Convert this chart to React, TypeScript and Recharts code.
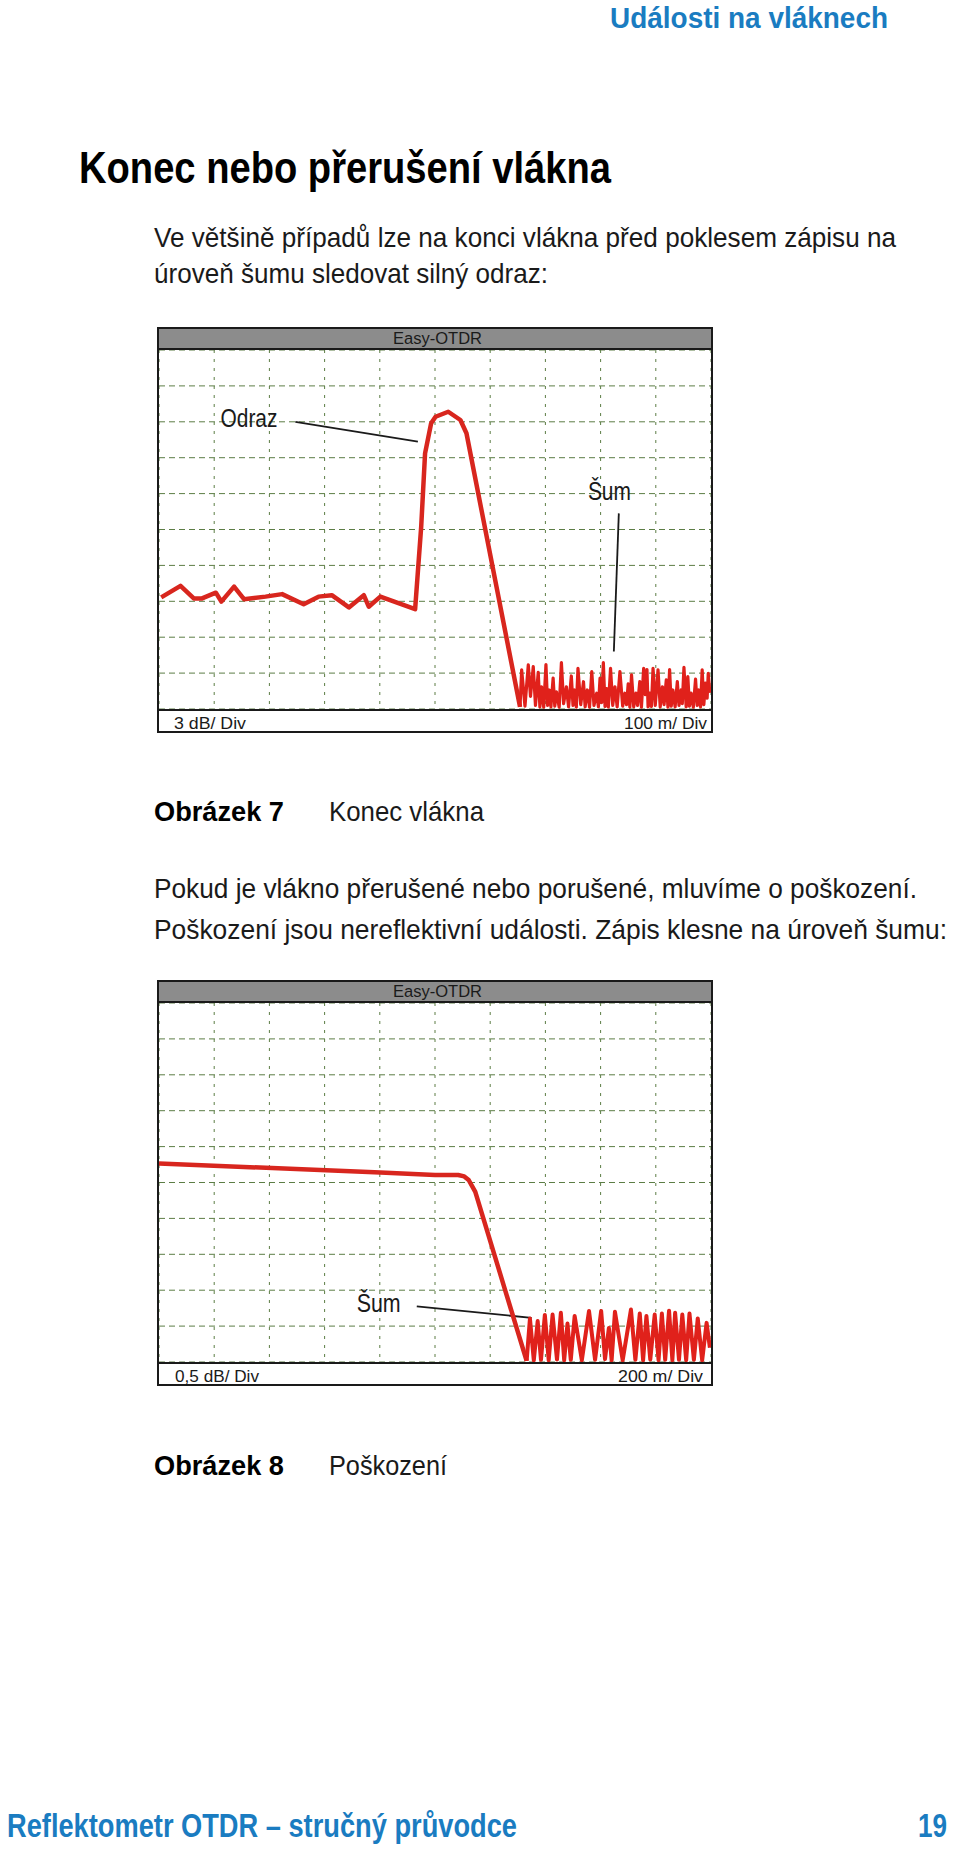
import { LineChart, Line, XAxis, YAxis, CartesianGrid, ReferenceLine, ReferenceDot } from 'recharts'

const FONT = "'Liberation Sans Narrow', 'Arial Narrow', 'Liberation Sans', Arial, sans-serif"
const RED = '#d8261e'
const GRID = '#5c7d45'
const INK = '#1a1a1a'
const BLUE = '#1a7cc1'

// mřížka: 10 dílků na obou osách
const divTicks = [1, 2, 3, 4, 5, 6, 7, 8, 9]

// Obrázek 7 – konec vlákna (x: dílky po 100 m, y: dílky po 3 dB)
const endTrace = [
  [0.04, 3.11], [0.39, 3.43], [0.63, 3.08], [0.78, 3.08], [1.03, 3.24], [1.13, 2.99],
  [1.36, 3.41], [1.54, 3.06], [1.93, 3.13], [2.23, 3.2], [2.62, 2.92], [2.89, 3.13],
  [3.13, 3.17], [3.44, 2.83], [3.71, 3.17], [3.8, 2.85], [4.01, 3.13], [4.64, 2.78],
  [4.75, 5.08], [4.82, 7.12], [4.93, 7.96], [5.01, 8.14], [5.24, 8.28], [5.46, 8.05],
  [5.57, 7.68], [6.54, 0.06],
]
const endNoise = [
  [6.54, 0.06], [6.57, 1.09], [6.63, 0.08], [6.69, 1.23], [6.73, 0.35], [6.78, 1.18], [6.82, 0.1],
  [6.87, 1.02], [6.9, 0.06], [6.93, 0.62], [6.97, 0.05], [7.01, 1.24], [7.04, 0.1], [7.07, 0.53],
  [7.1, 0.06], [7.14, 0.86], [7.17, 0.08], [7.2, 0.48], [7.25, 0.05], [7.29, 1.29], [7.33, 0.15],
  [7.38, 0.62], [7.42, 0.06], [7.47, 0.92], [7.5, 0.1], [7.53, 0.53], [7.56, 0.05], [7.59, 1.13],
  [7.64, 0.12], [7.69, 0.76], [7.72, 0.06], [7.76, 0.53], [7.8, 0.05], [7.84, 1.04], [7.88, 0.1],
  [7.93, 0.44], [7.96, 0.06], [7.99, 0.86], [8.02, 0.18], [8.05, 1.29], [8.08, 0.07], [8.11, 0.57],
  [8.14, 0.05], [8.18, 1.13], [8.22, 0.1], [8.26, 0.62], [8.3, 0.06], [8.35, 1.04], [8.4, 0.08],
  [8.44, 0.44], [8.47, 0.12], [8.5, 0.7], [8.53, 0.05], [8.56, 0.95], [8.6, 0.06], [8.64, 0.44],
  [8.67, 0.1], [8.71, 0.76], [8.74, 0.05], [8.78, 1.13], [8.81, 0.4], [8.84, 1.1], [8.86, 0.06],
  [8.89, 0.44], [8.92, 0.07], [8.95, 1.13], [8.99, 0.1], [9.04, 1.09], [9.08, 0.06], [9.12, 0.62],
  [9.15, 0.12], [9.19, 0.81], [9.22, 0.05], [9.25, 1.1], [9.28, 0.08], [9.31, 0.53], [9.35, 0.06],
  [9.39, 0.76], [9.42, 0.1], [9.46, 0.53], [9.48, 0.15], [9.51, 1.16], [9.55, 0.06], [9.58, 0.9],
  [9.61, 0.08], [9.64, 0.44], [9.68, 0.05], [9.72, 0.83], [9.75, 0.1], [9.78, 0.53], [9.81, 0.06],
  [9.84, 1.09], [9.87, 0.12], [9.9, 0.72], [9.93, 0.3], [9.95, 0.99], [9.98, 0.45],
]
const endNotes = [
  { text: 'Odraz', x: 1.63, y: 8.11, len: 57, from: [2.47, 8.0], to: [4.69, 7.45] },
  { text: 'Šum', x: 8.16, y: 6.07, len: 43, from: [8.33, 5.45], to: [8.24, 1.6] },
]

// Obrázek 8 – poškození (x: dílky po 200 m, y: dílky po 0,5 dB)
const breakTrace = [
  [0, 5.53], [4.01, 5.28], [5.0, 5.21], [5.42, 5.21], [5.53, 5.17], [5.61, 5.07], [5.73, 4.74],
  [6.66, 0.03],
]
const breakNoise = [
  [6.66, 0.03], [6.72, 1.21], [6.79, 0.05], [6.86, 1.14], [6.92, 0.06], [6.99, 1.31], [7.06, 0.05],
  [7.13, 1.32], [7.21, 0.07], [7.28, 1.37], [7.34, 0.05], [7.4, 1.07], [7.46, 0.06], [7.53, 1.28],
  [7.66, 0.05], [7.79, 1.42], [7.9, 0.06], [8.01, 1.42], [8.08, 0.08], [8.15, 0.95], [8.2, 0.05],
  [8.26, 1.4], [8.4, 0.05], [8.55, 1.46], [8.63, 0.06], [8.71, 1.35], [8.77, 0.05], [8.83, 1.28],
  [8.9, 0.07], [8.98, 1.32], [9.05, 0.05], [9.11, 1.35], [9.17, 0.06], [9.24, 1.43], [9.3, 0.05],
  [9.35, 1.37], [9.42, 0.06], [9.48, 1.32], [9.55, 0.05], [9.61, 1.35], [9.69, 0.06], [9.76, 1.21],
  [9.84, 0.05], [9.92, 1.09], [9.98, 0.4],
]
const breakNotes = [
  { text: 'Šum', x: 3.98, y: 1.63, len: 44, from: [4.67, 1.55], to: [6.75, 1.23] },
]

const toPts = (rows: number[][]) => rows.map(([x, y]) => ({ x, y }))

type Note = { text: string; x: number; y: number; len: number; from: number[]; to: number[] }

function noteLabel(n: Note) {
  return (props: any) => {
    const vb = props.viewBox || {}
    const cx = (vb.x ?? 0) + (vb.width ?? 0) / 2
    const cy = (vb.y ?? 0) + (vb.height ?? 0) / 2
    return (
      <text
        x={cx - n.len / 2}
        y={cy + 9}
        textLength={n.len}
        lengthAdjust="spacingAndGlyphs"
        fontFamily={FONT}
        fontSize={26}
        fill={INK}
      >
        {n.text}
      </text>
    )
  }
}

function Screen({ top, trace, noise, notes, noiseWidth }: { top: number; trace: number[][]; noise: number[][]; notes: Note[]; noiseWidth: number }) {
  return (
    <div
      style={{
        position: 'absolute',
        left: 157,
        top,
        width: 556,
        height: 406,
        border: `2px solid ${INK}`,
        boxSizing: 'border-box',
        background: '#fff',
      }}
    >
      <div style={{ height: 19, background: '#8c8c8c', borderBottom: `2px solid ${INK}` }} />
      <LineChart width={552} height={359} margin={{ top: 0, right: 0, bottom: 0, left: 0 }}>
        <XAxis type="number" dataKey="x" domain={[0, 10]} ticks={divTicks} hide allowDataOverflow />
        <YAxis type="number" dataKey="y" domain={[0, 10]} ticks={divTicks} hide allowDataOverflow />
        <CartesianGrid horizontal={false} stroke={GRID} strokeDasharray="3 6" />
        <CartesianGrid vertical={false} stroke={GRID} strokeDasharray="6 4" />
        {notes.map((n) => (
          <ReferenceLine
            key={n.text + n.x}
            segment={[{ x: n.from[0], y: n.from[1] }, { x: n.to[0], y: n.to[1] }]}
            stroke={INK}
            strokeWidth={1.8}
          />
        ))}
        <Line
          data={toPts(trace)}
          dataKey="y"
          type="linear"
          stroke={RED}
          strokeWidth={4.5}
          strokeLinejoin="round"
          dot={false}
          isAnimationActive={false}
        />
        <Line
          data={toPts(noise)}
          dataKey="y"
          type="linear"
          stroke="#e0211b"
          strokeWidth={noiseWidth}
          strokeLinejoin="round"
          dot={false}
          isAnimationActive={false}
        />
        {notes.map((n) => (
          <ReferenceDot
            key={'t' + n.text + n.x}
            x={n.x}
            y={n.y}
            r={0}
            fill="none"
            stroke="none"
            label={{ content: noteLabel(n) }}
          />
        ))}
      </LineChart>
      <div style={{ borderTop: `2px solid ${INK}`, height: 20 }} />
    </div>
  )
}

// sx = vodorovné zúžení písma (v originále úzký font)
const pageTexts = [
  { t: 'Události na vláknech', x: 610, y: 28, len: 278, size: 30, sx: 0.93, bold: true, color: BLUE },
  { t: 'Konec nebo přerušení vlákna', x: 79, y: 183, len: 532, size: 44, sx: 0.87, bold: true, color: '#000' },
  { t: 'Ve většině případů lze na konci vlákna před poklesem zápisu na', x: 154, y: 247, len: 742, size: 28, sx: 0.93 },
  { t: 'úroveň šumu sledovat silný odraz:', x: 154, y: 283, len: 394, size: 28, sx: 0.93 },
  { t: 'Easy-OTDR', x: 393, y: 344, len: 89, size: 17, sx: 0.97 },
  { t: '3 dB/ Div', x: 174, y: 729, len: 72, size: 17, sx: 1 },
  { t: '100 m/ Div', x: 624, y: 729, len: 83, size: 17, sx: 1 },
  { t: 'Obrázek 7', x: 154, y: 821, len: 130, size: 28, sx: 0.97, bold: true, color: '#000' },
  { t: 'Konec vlákna', x: 329, y: 821, len: 155, size: 28, sx: 0.93 },
  { t: 'Pokud je vlákno přerušené nebo porušené, mluvíme o poškození.', x: 154, y: 898, len: 763, size: 28, sx: 0.93 },
  { t: 'Poškození jsou nereflektivní události. Zápis klesne na úroveň šumu:', x: 154, y: 939, len: 793, size: 28, sx: 0.93 },
  { t: 'Easy-OTDR', x: 393, y: 997, len: 89, size: 17, sx: 0.97 },
  { t: '0,5 dB/ Div', x: 175, y: 1382, len: 84, size: 17, sx: 1 },
  { t: '200 m/ Div', x: 618, y: 1382, len: 85, size: 17, sx: 1 },
  { t: 'Obrázek 8', x: 154, y: 1475, len: 130, size: 28, sx: 0.97, bold: true, color: '#000' },
  { t: 'Poškození', x: 329, y: 1475, len: 118, size: 28, sx: 0.93 },
  { t: 'Reflektometr OTDR – stručný průvodce', x: 7, y: 1837, len: 510, size: 34, sx: 0.8, bold: true, color: BLUE },
  { t: '19', x: 918, y: 1837, len: 29, size: 34, sx: 0.8, bold: true, color: BLUE },
]

export default function App() {
  return (
    <div style={{ position: 'absolute', left: 0, top: 0, width: 960, height: 1855, background: '#fff', overflow: 'hidden' }}>
      <Screen top={327} trace={endTrace} noise={endNoise} notes={endNotes} noiseWidth={3.2} />
      <Screen top={980} trace={breakTrace} noise={breakNoise} notes={breakNotes} noiseWidth={4} />
      <svg width={960} height={1855} style={{ position: 'absolute', left: 0, top: 0, pointerEvents: 'none' }}>
        {pageTexts.map((p, i) => (
          <text
            key={i}
            transform={`translate(${p.x},${p.y}) scale(${p.sx},1)`}
            textLength={p.len / p.sx}
            lengthAdjust="spacingAndGlyphs"
            fontFamily={FONT}
            fontSize={p.size}
            fontWeight={p.bold ? 700 : 400}
            fill={p.color ?? INK}
          >
            {p.t}
          </text>
        ))}
      </svg>
    </div>
  )
}
